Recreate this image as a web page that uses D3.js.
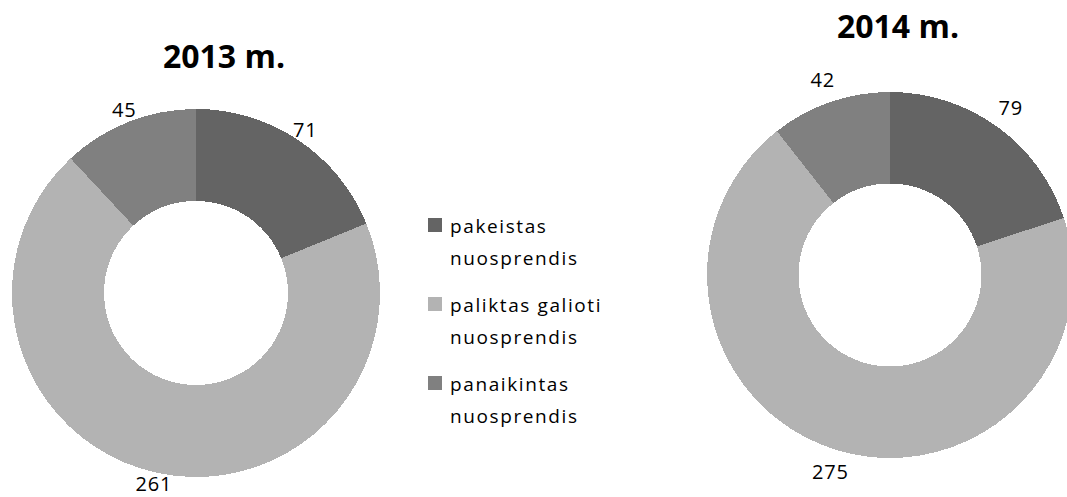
<!DOCTYPE html>
<html>
<head>
<meta charset="utf-8">
<script src="https://cdn.jsdelivr.net/npm/d3@7/dist/d3.min.js"></script>
<style>
  html, body { margin: 0; padding: 0; background: #fff; }
  svg { display: block; font-family: "Open Sans", sans-serif; }
</style>
</head>
<body>
<svg id="chart"></svg>
<script>
// Categories and values
const categories = ["pakeistas nuosprendis", "paliktas galioti nuosprendis", "panaikintas nuosprendis"];
const legendLines = [["pakeistas", "nuosprendis"], ["paliktas galioti", "nuosprendis"], ["panaikintas", "nuosprendis"]];
const years = ["2013 m.", "2014 m."];
const values2013 = [71, 261, 45];
const values2014 = [79, 275, 42];
const colors = ["#646464", "#b3b3b3", "#808080"];

const width = 1067;
const height = 497;

const svg = d3.select("#chart")
  .attr("width", width)
  .attr("height", height);

// Where each donut sits
const layout = [
  { cx: 196, cy: 293, r: 184, titleX: 224, titleY: 68, labelR: 196, values: values2013 },
  { cx: 890, cy: 275, r: 183, titleX: 898, titleY: 38, labelR: 206, values: values2014 }
];

const color = d3.scaleOrdinal().domain(categories).range(colors);

const pie = d3.pie()
  .sort(null)
  .value(d => d.value);

layout.forEach(function(chart, i) {
  const data = categories.map((c, j) => ({ category: c, value: chart.values[j] }));
  const arcs = pie(data);

  const arc = d3.arc()
    .innerRadius(chart.r * 0.5)
    .outerRadius(chart.r);

  const labelArc = d3.arc()
    .innerRadius(chart.labelR)
    .outerRadius(chart.labelR);

  const g = svg.append("g")
    .attr("transform", `translate(${chart.cx},${chart.cy})`);

  g.selectAll("path")
    .data(arcs)
    .enter()
    .append("path")
    .attr("d", arc)
    .attr("fill", d => color(d.data.category))
    .attr("shape-rendering", "crispEdges");

  g.selectAll(".lbl")
    .data(arcs)
    .enter()
    .append("text")
    .attr("class", "lbl")
    .attr("transform", d => `translate(${labelArc.centroid(d)})`)
    .attr("text-anchor", "middle")
    .attr("dy", "0.33em")
    .style("font-size", "20px")
    .style("letter-spacing", "0.8px")
    .attr("fill", "#000")
    .text(d => d.data.value);

  svg.append("text")
    .attr("x", chart.titleX)
    .attr("y", chart.titleY)
    .attr("text-anchor", "middle")
    .style("font-size", "32px")
    .style("font-weight", "bold")
    .attr("fill", "#000")
    .text(years[i]);
});

// Legend
const legend = svg.append("g")
  .attr("transform", "translate(428,218)");

const item = legend.selectAll(".item")
  .data(categories)
  .enter()
  .append("g")
  .attr("class", "item")
  .attr("transform", (d, i) => `translate(0,${i * 79})`);

item.append("rect")
  .attr("width", 14)
  .attr("height", 14)
  .attr("fill", d => color(d));

item.append("text")
  .attr("x", 22)
  .attr("y", 15)
  .style("font-size", "19px")
  .style("letter-spacing", "1.6px")
  .attr("fill", "#000")
  .selectAll("tspan")
  .data((d, i) => legendLines[i])
  .enter()
  .append("tspan")
  .attr("x", 22)
  .attr("dy", (d, i) => i === 0 ? 0 : 32)
  .text(d => d);
</script>
</body>
</html>
